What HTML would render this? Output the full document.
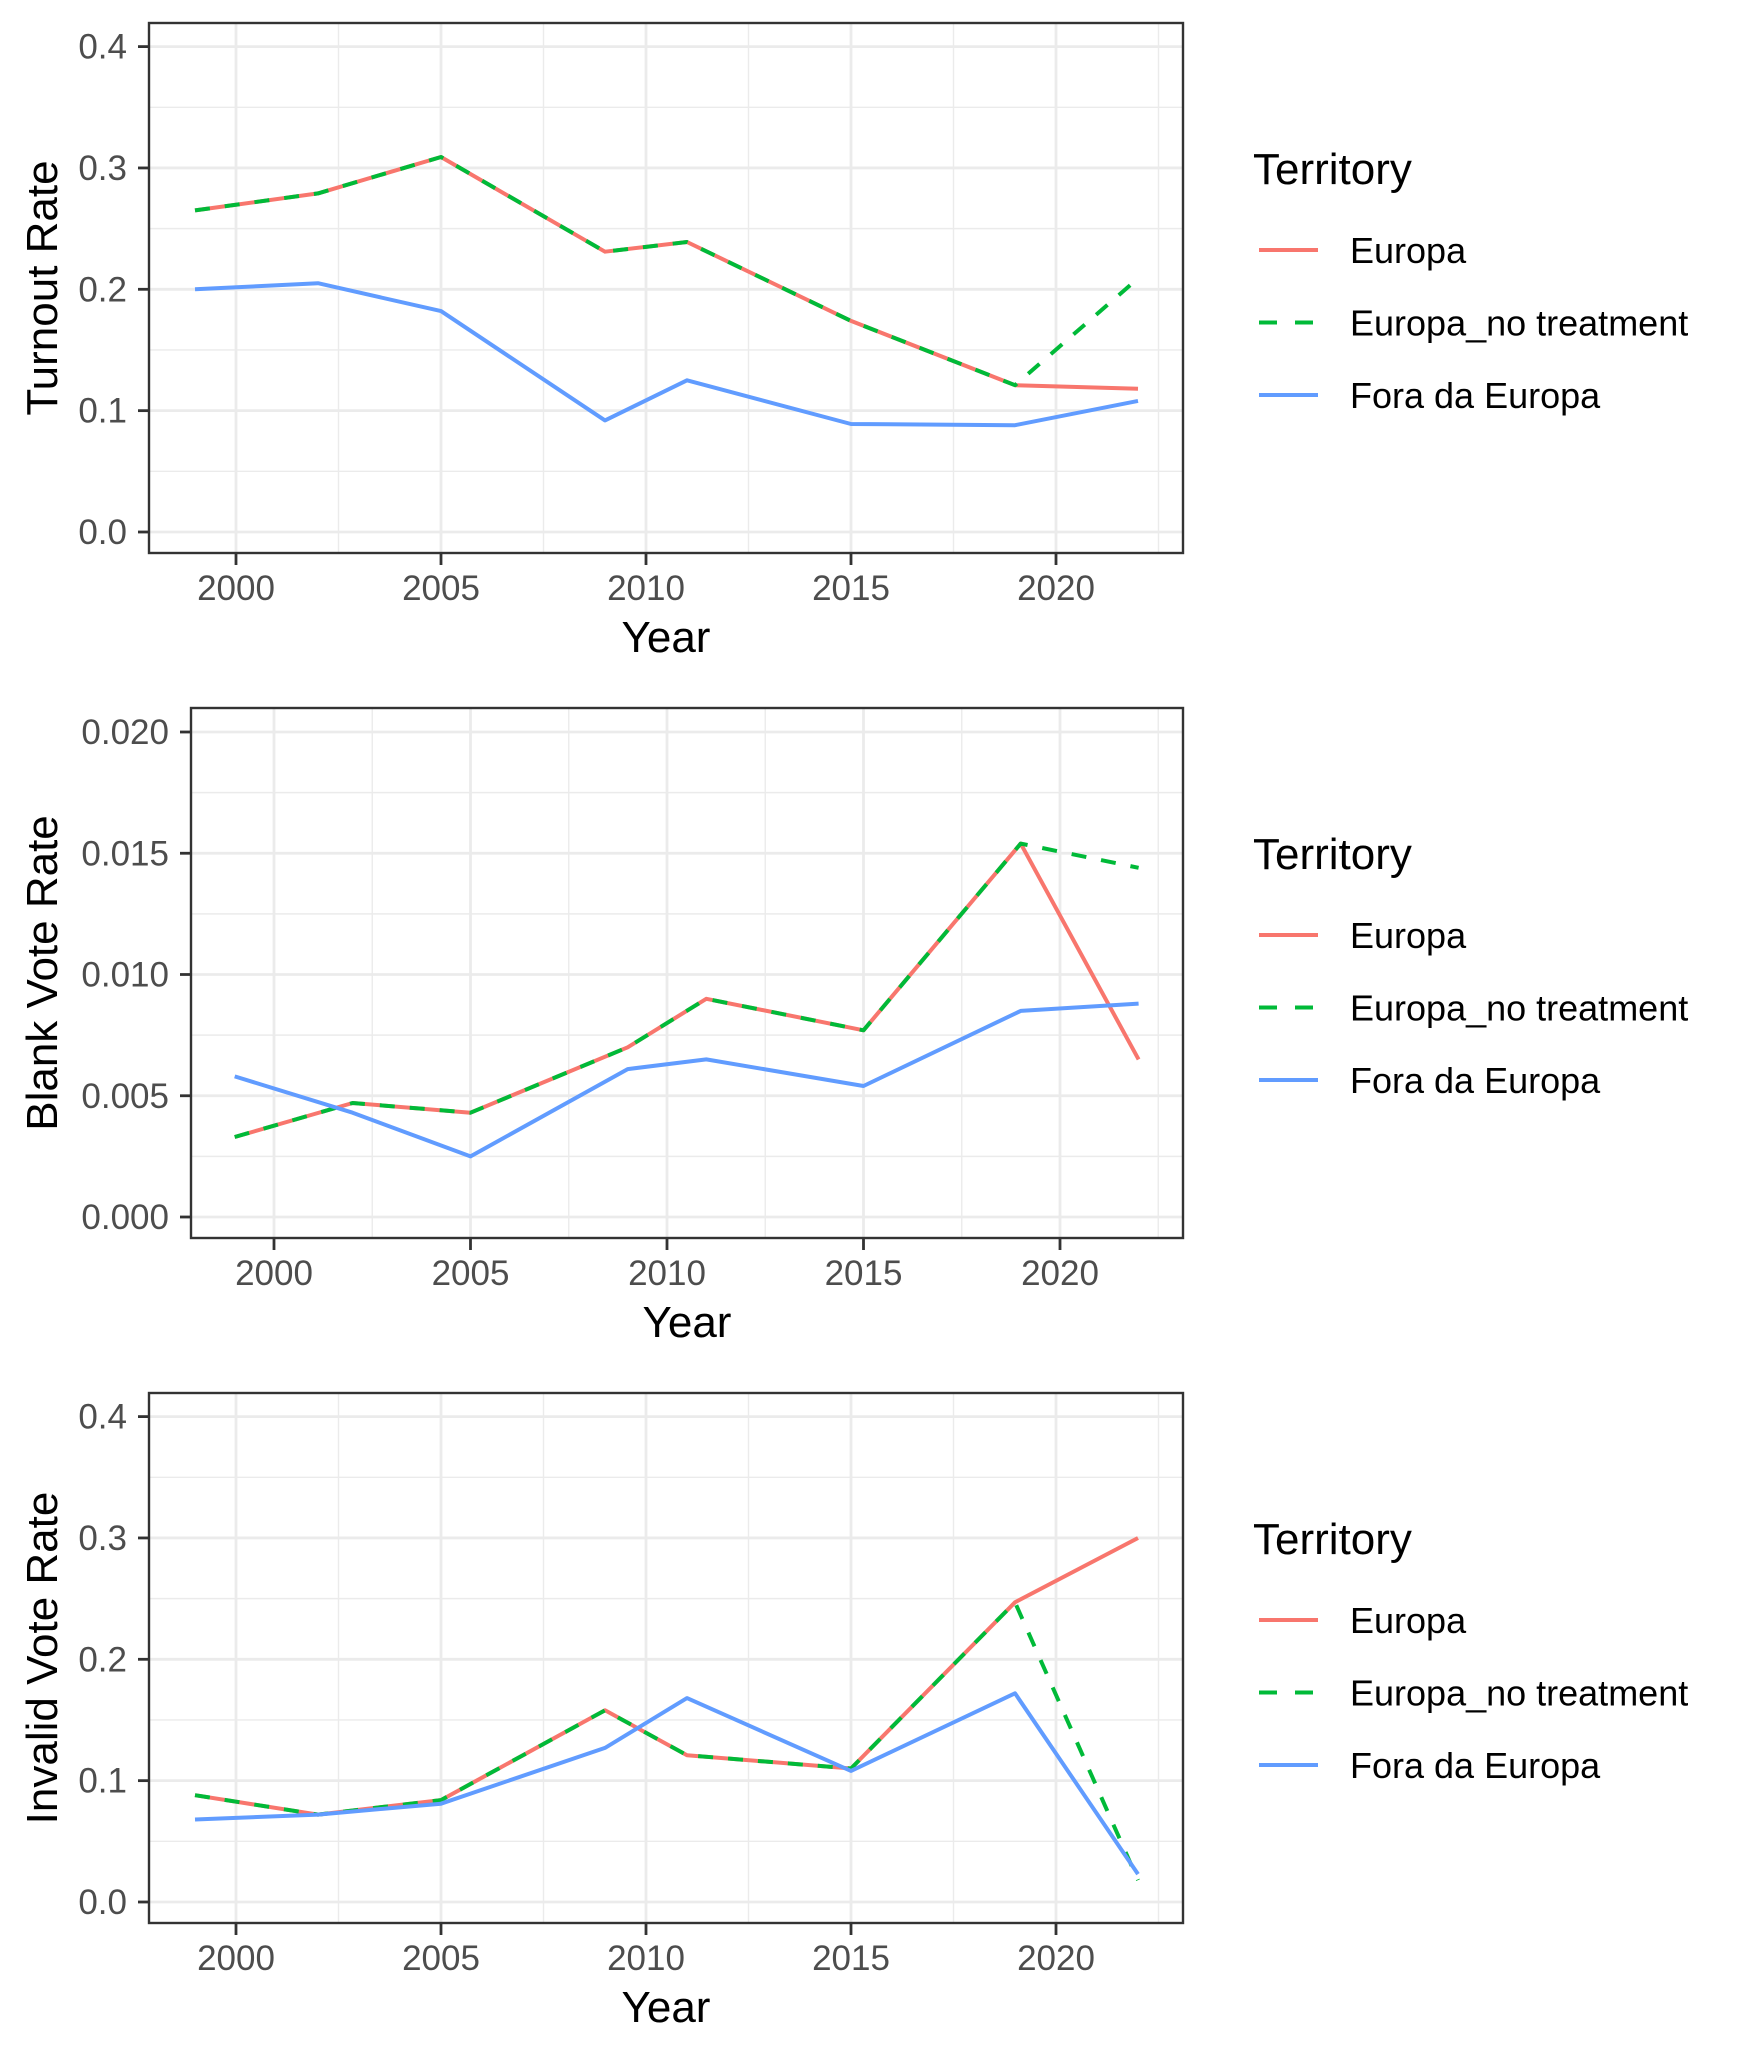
<!DOCTYPE html>
<html><head><meta charset="utf-8"><style>
html,body{margin:0;padding:0;background:#fff;}
svg{display:block;font-family:"Liberation Sans",Arial,sans-serif;}
</style></head><body>
<svg id="chart" width="1737" height="2054" viewBox="0 0 1737 2054" xmlns="http://www.w3.org/2000/svg"></svg>
<script>
const years = [1999, 2002, 2005, 2009, 2011, 2015, 2019, 2022];
const turnoutEuropa = [0.265, 0.279, 0.309, 0.231, 0.239, 0.174, 0.121, 0.118];
const turnoutNoTreat = [0.265, 0.279, 0.309, 0.231, 0.239, 0.174, 0.121, 0.209];
const turnoutFora = [0.200, 0.205, 0.182, 0.092, 0.125, 0.089, 0.088, 0.108];
const blankEuropa = [0.0033, 0.0047, 0.0043, 0.0070, 0.0090, 0.0077, 0.0154, 0.0065];
const blankNoTreat = [0.0033, 0.0047, 0.0043, 0.0070, 0.0090, 0.0077, 0.0154, 0.0144];
const blankFora = [0.0058, 0.0043, 0.0025, 0.0061, 0.0065, 0.0054, 0.0085, 0.0088];
const invalidEuropa = [0.088, 0.072, 0.084, 0.158, 0.121, 0.110, 0.247, 0.300];
const invalidNoTreat = [0.088, 0.072, 0.084, 0.158, 0.121, 0.110, 0.247, 0.018];
const invalidFora = [0.068, 0.072, 0.081, 0.127, 0.168, 0.108, 0.172, 0.023];
const xTicks = [2000, 2005, 2010, 2015, 2020];
const yTicksRate = ["0.0", "0.1", "0.2", "0.3", "0.4"];
const yTicksBlank = ["0.000", "0.005", "0.010", "0.015", "0.020"];
const legendLabels = ["Europa", "Europa_no treatment", "Fora da Europa"];

const NS = "http://www.w3.org/2000/svg";
const svg = document.getElementById("chart");
function mk(tag, attrs, parent) {
  const e = document.createElementNS(NS, tag);
  for (const k in attrs) e.setAttribute(k, attrs[k]);
  (parent || svg).appendChild(e);
  return e;
}
const COLORS = ["#F8766D", "#00BA38", "#619CFF"];

const panels = [
  {name: "turnout", title: "Turnout Rate", off: 0, left: 149, x2000: 236, x2020: 1056, y0: 532, yTop: 46.6, ymax: 0.4, ticks: yTicksRate, tickVals: [0, 0.1, 0.2, 0.3, 0.4], minor: [0.05, 0.15, 0.25, 0.35], series: [turnoutEuropa, turnoutNoTreat, turnoutFora]},
  {name: "blank", title: "Blank Vote Rate", off: 685, left: 191, x2000: 274, x2020: 1060, y0: 532, yTop: 47, ymax: 0.02, ticks: yTicksBlank, tickVals: [0, 0.005, 0.01, 0.015, 0.02], minor: [0.0025, 0.0075, 0.0125, 0.0175], series: [blankEuropa, blankNoTreat, blankFora]},
  {name: "invalid", title: "Invalid Vote Rate", off: 1370, left: 149, x2000: 236, x2020: 1056, y0: 532, yTop: 46.6, ymax: 0.4, ticks: yTicksRate, tickVals: [0, 0.1, 0.2, 0.3, 0.4], minor: [0.05, 0.15, 0.25, 0.35], series: [invalidEuropa, invalidNoTreat, invalidFora]}
];

panels.forEach(p => {
  const g = mk("g", {transform: `translate(0,${p.off})`});
  
  
  const L = p.left, R = 1183, T = 23, B = 553;
  const xs = v => p.x2000 + (v - 2000) * (p.x2020 - p.x2000) / 20;
  const ys = v => p.y0 - v * (p.y0 - p.yTop) / p.ymax;
  const bg = mk("rect", {x: L, y: T, width: R - L, height: B - T, fill: "#fff"}, g);
  
  
  p.minor.forEach(v => {
    const l = mk("line", {x1: L, x2: R, y1: ys(v), y2: ys(v), stroke: "#ebebeb", "stroke-width": 1.4}, g);
    
    
  });
  [2002.5, 2007.5, 2012.5, 2017.5, 2022.5].forEach(v => {
    const l = mk("line", {x1: xs(v), x2: xs(v), y1: T, y2: B, stroke: "#ebebeb", "stroke-width": 1.4}, g);
    
    
  });
  p.tickVals.forEach((v, i) => {
    const l = mk("line", {x1: L, x2: R, y1: ys(v), y2: ys(v), stroke: "#ebebeb", "stroke-width": 2.8}, g);
    
    
    const t = mk("line", {x1: L - 11, x2: L, y1: ys(v), y2: ys(v), stroke: "#333", "stroke-width": 2.8}, g);
    
    
    const tx = mk("text", {x: L - 22, y: ys(v) + 12, "text-anchor": "end", "font-size": 35, fill: "#4d4d4d"}, g);
    tx.textContent = p.ticks[i];
    
    
  });
  xTicks.forEach(v => {
    const l = mk("line", {x1: xs(v), x2: xs(v), y1: T, y2: B, stroke: "#ebebeb", "stroke-width": 2.8}, g);
    
    
    const t = mk("line", {x1: xs(v), x2: xs(v), y1: B, y2: B + 12, stroke: "#333", "stroke-width": 2.8}, g);
    
    
    const tx = mk("text", {x: xs(v), y: 600, "text-anchor": "middle", "font-size": 35, fill: "#4d4d4d"}, g);
    tx.textContent = v;
    
    
  });
  [0, 1, 2].forEach(si => {
    const pts = years.map((yr, i) => `${xs(yr).toFixed(1)},${ys(p.series[si][i]).toFixed(1)}`).join(" ");
    const attrs = {points: pts, fill: "none", stroke: COLORS[si], "stroke-width": 4, "stroke-linejoin": "round"};
    if (si === 1) attrs["stroke-dasharray"] = "15 15";
    const pl = mk("polyline", attrs, g);
    
    
  });
  const border = mk("rect", {x: L, y: T, width: R - L, height: B - T, fill: "none", stroke: "#333", "stroke-width": 2.4}, g);
  
  
  const xt = mk("text", {x: (L + R) / 2, y: 652, "text-anchor": "middle", "font-size": 44, fill: "#000"}, g);
  xt.textContent = "Year";
  
  
  const yt = mk("text", {x: 0, y: 0, "text-anchor": "middle", "font-size": 44, fill: "#000", transform: `translate(57,${(T + B) / 2}) rotate(-90)`}, g);
  yt.textContent = p.title;
  
  
  const lg = mk("g", {}, g);
  
  
  const lt = mk("text", {x: 1253, y: 184, "font-size": 44, fill: "#000"}, lg);
  lt.textContent = "Territory";
  
  
  legendLabels.forEach((lab, i) => {
    const ky = 250 + i * 72.5;
    const la = {x1: 1259, x2: 1318, y1: ky, y2: ky, stroke: COLORS[i], "stroke-width": 4};
    if (i === 1) la["stroke-dasharray"] = "18 18";
    const k = mk("line", la, lg);
    
    
    const tx = mk("text", {x: 1350, y: ky + 13, "font-size": 36, fill: "#000"}, lg);
    tx.textContent = lab;
    
    
  });
});
</script>
</body></html>
